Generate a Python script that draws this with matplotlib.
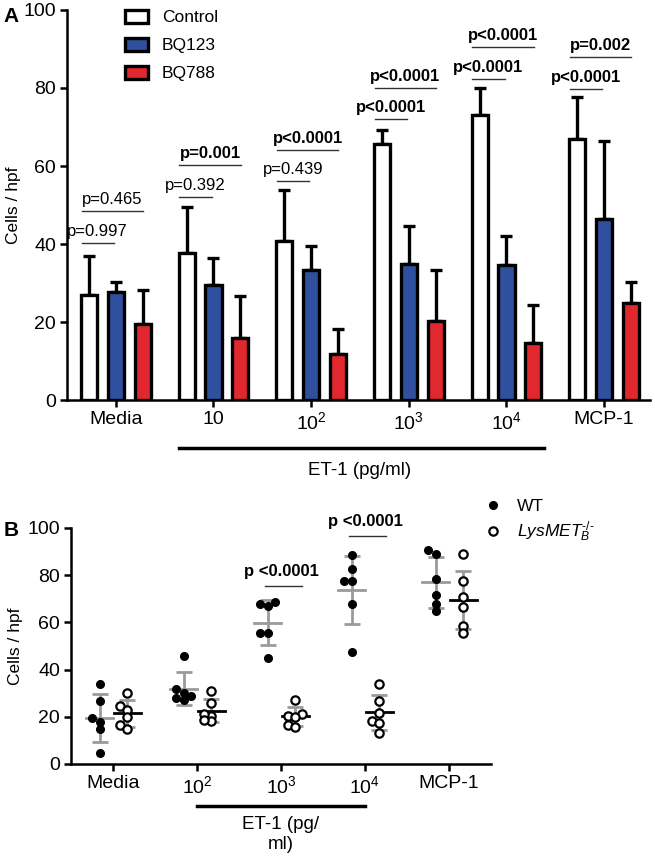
import numpy as np
import matplotlib
matplotlib.use("Agg")
import matplotlib.pyplot as plt
from matplotlib.patches import Patch
from matplotlib.lines import Line2D

plt.rcParams["font.family"] = ["Liberation Sans", "DejaVu Sans"]
plt.rcParams["mathtext.fontset"] = "custom"
plt.rcParams["mathtext.rm"] = "Liberation Sans"
plt.rcParams["mathtext.it"] = "Liberation Sans:italic"
plt.rcParams["mathtext.bf"] = "Liberation Sans:bold"

# ---- Panel A data (mean + SD, cells / hpf) ----
groups_a = ["Media", "10", r"10$^{2}$", r"10$^{3}$", r"10$^{4}$", "MCP-1"]
control_mean = [27.0, 37.7, 40.8, 65.7, 73.0, 66.8]
control_sd = [10.0, 11.8, 13.0, 3.6, 7.0, 10.9]
bq123_mean = [27.8, 29.4, 33.3, 34.8, 34.5, 46.5]
bq123_sd = [2.5, 6.9, 6.3, 9.7, 7.5, 19.8]
bq788_mean = [19.5, 16.0, 11.9, 20.3, 14.5, 25.0]
bq788_sd = [8.8, 10.7, 6.3, 13.0, 9.8, 5.3]

# p values: control vs BQ123 (lower line) and control vs BQ788 (upper line)
p_bq123 = ["p=0.997", "p=0.392", "p=0.439", "p<0.0001", "p<0.0001", "p<0.0001"]
p_bq123_y = [40.2, 52.0, 56.2, 72.0, 82.4, 79.8]
p_bq123_bold = [False, False, False, True, True, True]
p_bq788 = ["p=0.465", "p=0.001", "p<0.0001", "p<0.0001", "p<0.0001", "p=0.002"]
p_bq788_y = [48.5, 60.3, 64.1, 80.0, 90.5, 87.9]
p_bq788_bold = [False, True, True, True, True, True]

# ---- Panel B data (individual mice) ----
groups_b = ["Media", r"10$^{2}$", r"10$^{3}$", r"10$^{4}$", "MCP-1"]
wt_values = [
    [33.8, 26.8, 17.6, 19.6, 14.7, 4.5],
    [45.8, 31.6, 29.0, 28.0, 27.0, 30.0],
    [68.8, 67.0, 67.7, 55.6, 55.6, 44.8],
    [88.6, 82.5, 77.5, 77.5, 67.7, 47.6],
    [90.7, 88.8, 78.4, 71.6, 67.7, 64.8],
]
ko_values = [
    [29.9, 24.7, 22.7, 20.0, 16.5, 14.7],
    [30.9, 25.7, 20.5, 21.2, 18.1, 18.6],
    [27.1, 21.0, 20.5, 19.8, 16.5, 15.8],
    [33.8, 26.7, 21.8, 18.1, 17.5, 13.3],
    [88.8, 77.5, 70.6, 66.4, 58.6, 55.6],
]
p_b_groups = [2, 3]
p_b_labels = ["p <0.0001", "p <0.0001"]
p_b_y = [75.4, 96.6]

blue = "#2f4f9f"
red = "#e2282f"
gray = "#9a9a9a"

fig = plt.figure(figsize=(6.55, 8.61), dpi=100)

# ================= Panel A =================
axA = fig.add_axes([0.1023, 0.5354, 0.8901, 0.4530])
x = np.arange(len(groups_a))
off = 0.275
bw = 0.165
series = [(control_mean, control_sd, "white", "Control"),
          (bq123_mean, bq123_sd, blue, "BQ123"),
          (bq788_mean, bq788_sd, red, "BQ788")]
for k, (m, s, c, lab) in enumerate(series):
    xx = x + (k - 1) * off
    axA.errorbar(xx, m, yerr=[np.zeros(len(m)), s], fmt="none", ecolor="black",
                 elinewidth=2.4, capsize=4.5, capthick=2.4, zorder=1)
    axA.bar(xx, m, width=bw, color=c, edgecolor="black", linewidth=2.4,
            label=lab, zorder=2)

for i in range(len(groups_a)):
    for lab, yv, bold, right in [(p_bq123[i], p_bq123_y[i], p_bq123_bold[i], -0.02),
                                 (p_bq788[i], p_bq788_y[i], p_bq788_bold[i], 0.28)]:
        x0, x1 = i - 0.35, i + right
        axA.plot([x0, x1], [yv, yv], color="#333333", lw=1.0)
        axA.text((x0 + x1) / 2, yv + 1.0, lab, ha="center", va="bottom",
                 fontsize=12, fontweight="bold" if bold else "normal")

axA.set_xlim(-0.5, 5.47)
axA.set_ylim(0, 100)
axA.set_yticks([0, 20, 40, 60, 80, 100])
axA.set_xticks(x)
axA.set_xticklabels(groups_a)
axA.set_ylabel("Cells / hpf", fontsize=12.5)
axA.yaxis.set_label_coords(-0.079, 0.5)

tA = axA.get_xaxis_transform()
axA.plot([0.65, 4.38], [-0.123, -0.123], color="black", lw=2.5,
         transform=tA, clip_on=False)
axA.text(2.5, -0.18, "ET-1 (pg/ml)", ha="center", va="center",
         fontsize=13.5, transform=tA)

handles = [Patch(facecolor=c, edgecolor="black", linewidth=2.4, label=lab)
           for _, _, c, lab in series]
axA.legend(handles=handles, loc="upper left", bbox_to_anchor=(0.099, 1.0),
           frameon=False, fontsize=12.5, handlelength=1.35, handleheight=0.75,
           handletextpad=0.8, labelspacing=0.72, borderpad=0, borderaxespad=0)

# ================= Panel B =================
axB = fig.add_axes([0.1084, 0.1127, 0.6412, 0.2741])
axB.set_xlim(-0.5, 4.5)
axB.set_ylim(0, 100)
fig.canvas.draw()


def swarm(ax, values, center, step=0.085, diam=5.5):
    # spread points sideways so markers do not pile up (greedy, in pixels)
    vals = np.asarray(values, dtype=float)
    xs = np.empty(len(vals))
    placed = []
    for j in np.argsort(vals):
        for k in [0, -1, 1, -2, 2, -3, 3]:
            cand = ax.transData.transform((center + k * step, vals[j]))
            if all(np.hypot(*(cand - p)) >= diam for p in placed):
                break
        placed.append(cand)
        xs[j] = center + k * step
    return xs


for i in range(len(groups_b)):
    for vals, side, filled in [(wt_values[i], -0.16, True), (ko_values[i], 0.17, False)]:
        c = i + side
        v = np.array(vals)
        mu, sd = v.mean(), v.std(ddof=1)
        axB.errorbar(c, mu, yerr=sd, fmt="none", ecolor=gray, elinewidth=2,
                     capsize=6, capthick=2, zorder=2)
        axB.plot([c - 0.16, c + 0.16], [mu, mu], color=gray if filled else "black",
                 lw=2, zorder=2)
        xs = swarm(axB, vals, c)
        if filled:
            axB.plot(xs, v, "o", color="black", markersize=5.5, zorder=3)
        else:
            axB.plot(xs, v, "o", markerfacecolor="white", markeredgecolor="black",
                     markeredgewidth=1.6, markersize=6, zorder=3)

for g, lab, yv in zip(p_b_groups, p_b_labels, p_b_y):
    axB.plot([g - 0.19, g + 0.25], [yv, yv], color="#333333", lw=1.0, clip_on=False)
    axB.text(g, yv + 3.0, lab, ha="center", va="bottom", fontsize=12,
             fontweight="bold", clip_on=False)

axB.set_yticks([0, 20, 40, 60, 80, 100])
axB.set_xticks(np.arange(len(groups_b)))
axB.set_xticklabels(groups_b)
axB.set_ylabel("Cells / hpf", fontsize=12.5)
axB.yaxis.set_label_coords(-0.115, 0.5)

tB = axB.get_xaxis_transform()
axB.plot([1, 3], [-0.178, -0.178], color="black", lw=2.5, transform=tB, clip_on=False)
axB.text(2, -0.30, "ET-1 (pg/\nml)", ha="center", va="center", fontsize=13.5,
         linespacing=1.2, transform=tB)

leg_handles = [
    Line2D([], [], marker="o", ls="none", color="black", markersize=5.5, label="WT"),
    Line2D([], [], marker="o", ls="none", markerfacecolor="white",
           markeredgecolor="black", markeredgewidth=1.6, markersize=6,
           label="$LysMET_{B}^{\u2010/\u2010}$"),
]
axB.legend(handles=leg_handles, loc="upper left", bbox_to_anchor=(0.983, 1.125),
           frameon=False, fontsize=12.5, handlelength=1.0, handletextpad=0.9,
           labelspacing=0.35, borderpad=0, borderaxespad=0)

for ax in (axA, axB):
    ax.spines["top"].set_visible(False)
    ax.spines["right"].set_visible(False)
    for sp in ("left", "bottom"):
        ax.spines[sp].set_linewidth(1.8)
    ax.tick_params(axis="both", direction="out", length=5, width=1.8,
                   labelsize=14, pad=3)

fig.text(0.006, 0.992, "A", fontsize=15, fontweight="bold", va="top")
fig.text(0.006, 0.395, "B", fontsize=15, fontweight="bold", va="top")

fig.savefig("out.png", dpi=100)
